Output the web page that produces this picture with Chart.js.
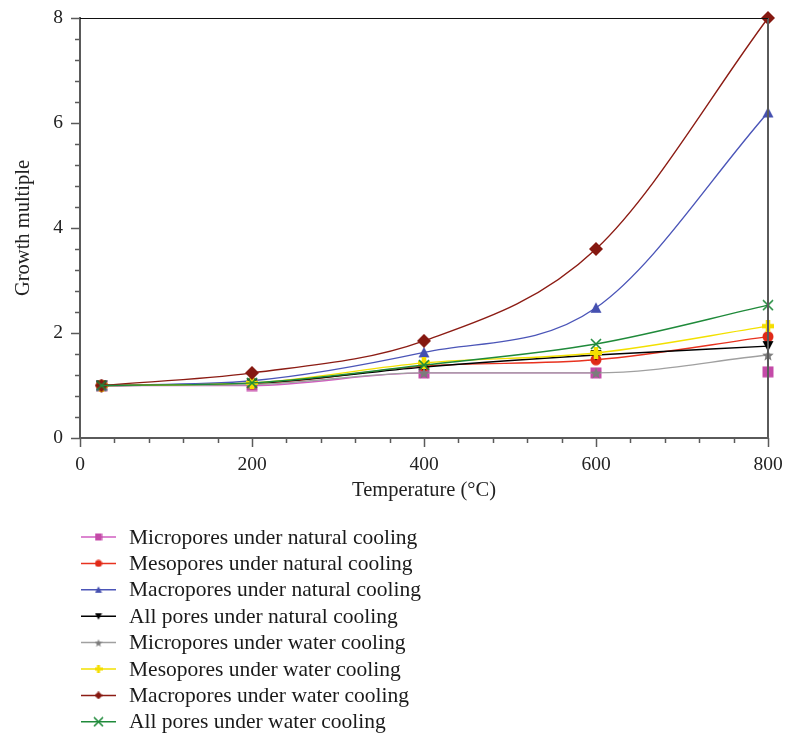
<!DOCTYPE html>
<html>
<head>
<meta charset="utf-8">
<script src="https://cdn.jsdelivr.net/npm/chart.js@4.4.1/dist/chart.umd.min.js"></script>
<style>
    html, body { margin: 0; padding: 0; background: #fff; }
    #wrap { width: 785px; height: 735px; }
</style>
</head>
<body>
<div id="wrap"><canvas id="chart" width="785" height="735"></canvas></div>
<script>

    // temperatures (°C) and growth multiples
    const temps = [25, 200, 400, 600, 800];
    const microNatural = [1.0, 1.0, 1.24, 1.24, 1.26];
    const mesoNatural = [1.0, 1.03, 1.37, 1.49, 1.93];
    const macroNatural = [1.0, 1.09, 1.63, 2.48, 6.2];
    const allNatural = [1.0, 1.04, 1.35, 1.58, 1.75];
    const microWater = [1.0, 1.02, 1.24, 1.24, 1.58];
    const mesoWater = [1.0, 1.05, 1.43, 1.62, 2.13];
    const macroWater = [1.0, 1.24, 1.85, 3.6, 8.0];
    const allWater = [1.0, 1.05, 1.39, 1.79, 2.53];

    const labels = [
        "Micropores under natural cooling",
        "Mesopores under natural cooling",
        "Macropores under natural cooling",
        "All pores under natural cooling",
        "Micropores under water cooling",
        "Mesopores under water cooling",
        "Macropores under water cooling",
        "All pores under water cooling"
    ];
    const series = [microNatural, mesoNatural, macroNatural, allNatural,
                    microWater, mesoWater, macroWater, allWater];
    const lineColors = ["#d05ec0", "#e8321f", "#4b55b8", "#000000",
                        "#a0a0a0", "#f2e000", "#8c1c14", "#1f8a3a"];
    const markColors = ["#c44aa8", "#e02a18", "#4550b0", "#000000",
                        "#7c7c7c", "#f5de00", "#851810", "#1f8a3a"];
    const shapes = ["square", "circle", "triangle", "down", "star", "plus", "diamond", "x"];

    const FONT = "'Liberation Serif', 'Times New Roman', serif";

    function makeMarker(kind, color, size) {
        const c = document.createElement("canvas");
        c.width = size; c.height = size;
        const g = c.getContext("2d");
        const m = size / 2;
        g.fillStyle = color;
        g.strokeStyle = color;
        g.beginPath();
        if (kind === "square") {
            g.rect(0.5, 0.5, size - 1, size - 1);
            g.fill();
        } else if (kind === "circle") {
            g.arc(m, m, m - 0.5, 0, Math.PI * 2);
            g.fill();
        } else if (kind === "triangle") {
            g.moveTo(m, 0.5); g.lineTo(size - 0.5, size - 1); g.lineTo(0.5, size - 1);
            g.closePath(); g.fill();
        } else if (kind === "down") {
            g.moveTo(0.5, 1); g.lineTo(size - 0.5, 1); g.lineTo(m, size - 0.5);
            g.closePath(); g.fill();
        } else if (kind === "diamond") {
            g.moveTo(m, 0); g.lineTo(size, m); g.lineTo(m, size); g.lineTo(0, m);
            g.closePath(); g.fill();
        } else if (kind === "plus") {
            const w = size * 0.38;
            g.rect(m - w / 2, 0, w, size);
            g.rect(0, m - w / 2, size, w);
            g.fill();
        } else if (kind === "star") {
            for (let i = 0; i < 10; i++) {
                const r = i % 2 === 0 ? m : m * 0.45;
                const a = -Math.PI / 2 + i * Math.PI / 5;
                const px = m + r * Math.cos(a), py = m + 0.6 + r * Math.sin(a);
                if (i === 0) g.moveTo(px, py); else g.lineTo(px, py);
            }
            g.closePath(); g.fill();
        } else if (kind === "x") {
            g.lineWidth = 1.6;
            g.moveTo(1, 1); g.lineTo(size - 1, size - 1);
            g.moveTo(size - 1, 1); g.lineTo(1, size - 1);
            g.stroke();
        }
        return c;
    }

    const plotMarkers = shapes.map((s, i) => makeMarker(s, markColors[i], s === "diamond" ? 14 : 12));
    const legendMarkers = shapes.map((s, i) => makeMarker(s, markColors[i], s === "x" ? 11 : 8));

    const datasets = series.map((vals, i) => ({
        label: labels[i],
        data: temps.map((t, k) => ({x: t, y: vals[k]})),
        borderColor: lineColors[i],
        borderWidth: 1.4,
        pointStyle: plotMarkers[i],
        pointRadius: 6,
        cubicInterpolationMode: "monotone",
        clip: false,
        order: series.length - i,
        // the last micropore (natural) point is not joined in the figure
        segment: i === 0 ? {borderColor: ctx => ctx.p1DataIndex === 4 ? "rgba(0,0,0,0)" : undefined} : undefined
    }));

    const frameAndLegend = {
        id: "frameAndLegend",
        afterDraw(chart) {
            const ctx = chart.ctx;
            const area = chart.chartArea;
            const xs = chart.scales.x, ys = chart.scales.y;
            ctx.save();
            ctx.strokeStyle = "#5a5a5a";
            ctx.lineWidth = 1.5;
            // y ticks, minor every 0.4
            for (let k = 0; k <= 20; k++) {
                const py = Math.round(ys.getPixelForValue(k * 0.4)) + 0.5;
                const len = k % 5 === 0 ? 9 : 5;
                ctx.beginPath(); ctx.moveTo(area.left - len, py); ctx.lineTo(area.left, py); ctx.stroke();
            }
            // x ticks, minor every 40
            for (let k = 0; k <= 20; k++) {
                const px = Math.round(xs.getPixelForValue(k * 40)) + 0.5;
                const len = k % 5 === 0 ? 9 : 5;
                ctx.beginPath(); ctx.moveTo(px, area.bottom); ctx.lineTo(px, area.bottom + len); ctx.stroke();
            }
            // right side line
            ctx.lineWidth = 2;
            ctx.beginPath(); ctx.moveTo(area.right, area.top); ctx.lineTo(area.right, area.bottom); ctx.stroke();
            // top line
            ctx.strokeStyle = "#111";
            ctx.lineWidth = 1;
            ctx.beginPath(); ctx.moveTo(area.left, area.top + 0.5); ctx.lineTo(area.right, area.top + 0.5); ctx.stroke();

            // legend, one entry per row
            ctx.font = "21.5px " + FONT;
            ctx.textBaseline = "middle";
            ctx.fillStyle = "#1a1a1a";
            chart.data.datasets.forEach((ds, i) => {
                const y = 537 + i * 26.4;
                ctx.strokeStyle = ds.borderColor;
                ctx.lineWidth = 1.5;
                ctx.beginPath(); ctx.moveTo(81, y); ctx.lineTo(116, y); ctx.stroke();
                const mk = legendMarkers[i];
                ctx.drawImage(mk, 98.5 - mk.width / 2, y - mk.height / 2);
                ctx.fillText(ds.label, 129, y + 1);
            });
            ctx.restore();
        }
    };

    // keep the plot box fixed: no extra room for overhanging edge labels
    function fitX(scale) {
        scale.height = 69;
        scale.paddingLeft = 0;
        scale.paddingRight = 0;
    }
    function fitY(scale) {
        scale.width = 73;
        scale.paddingTop = 0;
        scale.paddingBottom = 0;
    }

    new Chart(document.getElementById("chart"), {
        type: "line",
        data: {datasets: datasets},
        options: {
            responsive: false,
            animation: false,
            layout: {padding: {top: 18, right: 17, bottom: 228, left: 7}},
            plugins: {legend: {display: false}, tooltip: {enabled: false}},
            scales: {
                x: {
                    type: "linear",
                    min: 0,
                    max: 800,
                    afterFit: fitX,
                    ticks: {stepSize: 200, padding: 15, color: "#222", font: {family: FONT, size: 19.5}},
                    grid: {drawOnChartArea: false, drawTicks: false},
                    border: {color: "#5a5a5a", width: 2},
                    title: {display: true, text: "Temperature (°C)", color: "#222", font: {family: FONT, size: 20.5}}
                },
                y: {
                    min: 0,
                    max: 8,
                    afterFit: fitY,
                    ticks: {stepSize: 2, padding: 17, color: "#222", font: {family: FONT, size: 19.5}},
                    grid: {drawOnChartArea: false, drawTicks: false},
                    border: {color: "#5a5a5a", width: 2},
                    title: {display: true, text: "Growth multiple", color: "#222", font: {family: FONT, size: 20.5}}
                }
            }
        },
        plugins: [frameAndLegend]
    });

</script>
</body>
</html>
